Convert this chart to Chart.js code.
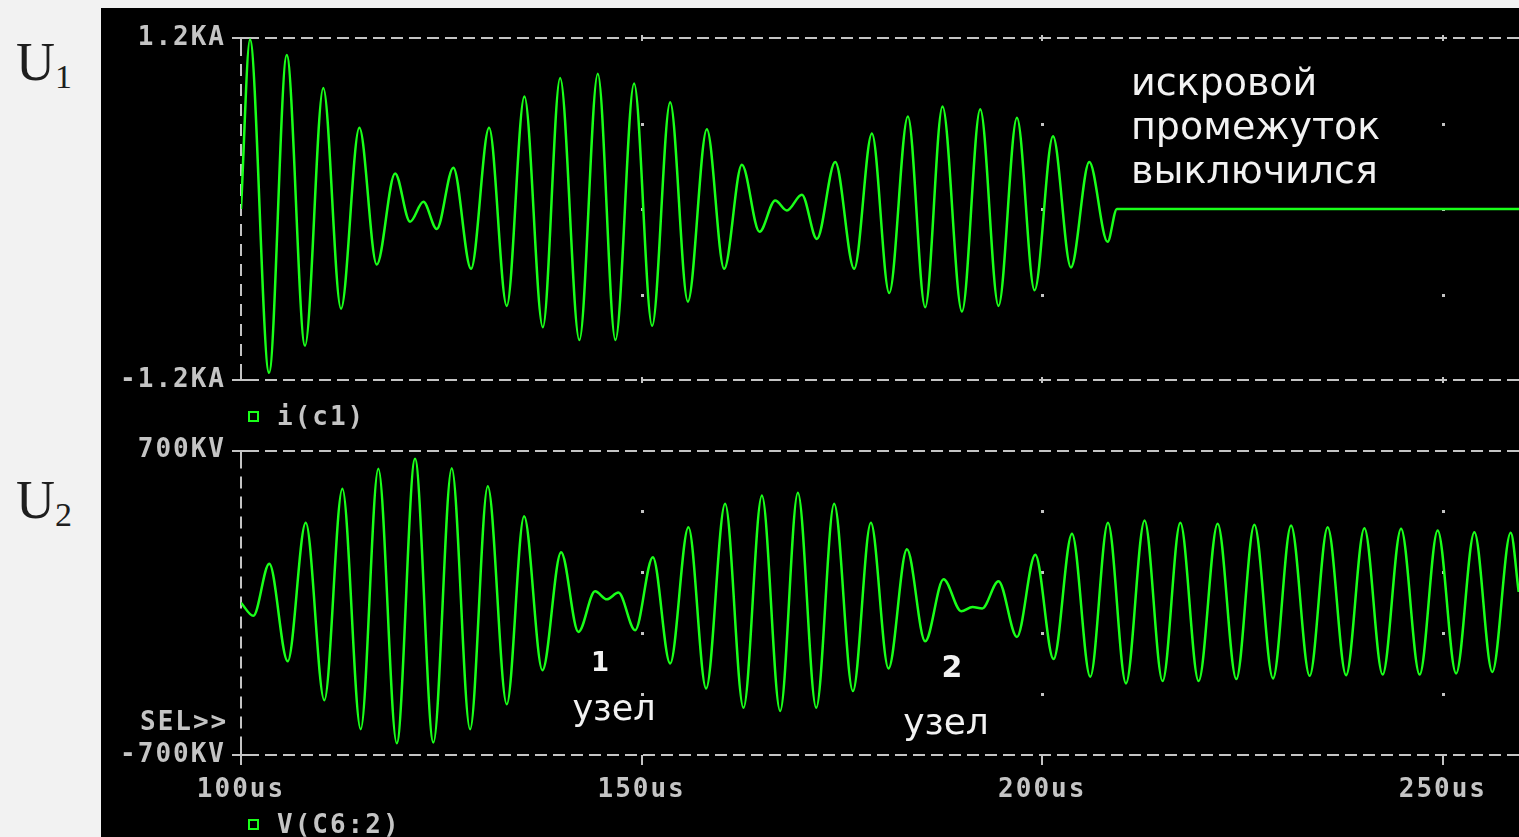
<!DOCTYPE html>
<html>
<head>
<meta charset="utf-8">
<script src="https://cdn.jsdelivr.net/npm/chart.js@4"></script>
<style>
  body { margin: 0; width: 1519px; height: 837px; background: #f2f2f2; position: relative; overflow: hidden; }
  #scope { position: absolute; left: 101px; top: 8px; right: 0; bottom: 0; background: #000; }
  .wrap { position: absolute; left: 100px; width: 1419px; }
  .lbl { position: absolute; white-space: nowrap; line-height: 1; }
  .mono { font-family: 'DejaVu Sans Mono', monospace; font-weight: bold; font-size: 26px; letter-spacing: 2px; color: #c4c4c4; }
  .note { font-family: 'DejaVu Sans', sans-serif; color: #f2f2f2; }
  .u { font-family: 'Liberation Serif', serif; color: #1e1e1e; font-size: 54px; }
  .u span { font-size: 34px; position: relative; top: 8px; }
  .box { position: absolute; width: 7px; height: 7px; border: 2px solid #19ff19; }
</style>
</head>
<body>
<div id="scope"></div>
<div class="wrap" style="top:0; height:420px"><canvas id="topChart"></canvas></div>
<div class="wrap" style="top:420px; height:417px"><canvas id="bottomChart"></canvas></div>

<div class="lbl u" style="left:16px; top:35px">U<span>1</span></div>
<div class="lbl u" style="left:16px; top:473px">U<span>2</span></div>

<div class="box" style="left:248px; top:411px"></div>
<div class="lbl mono" style="left:277px; top:403px">i(c1)</div>
<div class="box" style="left:248px; top:819px"></div>
<div class="lbl mono" style="left:277px; top:811px">V(C6:2)</div>
<div class="lbl mono" style="left:140px; top:708px">SEL&gt;&gt;</div>

<div class="lbl note" style="left:1131px; top:60px; font-size:38px; line-height:44px">искровой<br>промежуток<br>выключился</div>
<div class="lbl note" style="left:580px; width:40px; text-align:center; top:649px; font-size:26px; font-weight:bold">1</div>
<div class="lbl note" style="left:564px; width:100px; text-align:center; top:691px; font-size:35px">узел</div>
<div class="lbl note" style="left:932px; width:40px; text-align:center; top:652px; font-size:30px; font-weight:bold">2</div>
<div class="lbl note" style="left:896px; width:100px; text-align:center; top:704px; font-size:36px">узел</div>

<script>
// time axis, microseconds
const timeTicks = [100, 150, 200, 250];

// upper trace i(c1), kA (read at peaks and troughs)
const timeI = [100.0, 101.12, 103.50, 105.71, 107.99, 110.27, 112.48, 114.77, 116.94, 119.23,
  121.10, 122.76, 124.43, 126.50, 128.71, 130.96, 133.17, 135.37, 137.67, 139.83,
  142.23, 144.53, 146.73, 149.06, 151.31, 153.56, 155.77, 158.14, 160.30, 162.51,
  164.71, 166.67, 168.13, 170.00, 171.87, 174.16, 176.53, 178.74, 180.90, 183.23,
  185.39, 187.55, 189.98, 192.26, 194.54, 196.84, 199.04, 201.34, 203.58, 205.87,
  208.15, 209.32, 259.5];
const currentI = [0, 1.19, -1.15, 1.08, -0.96, 0.85, -0.70, 0.57, -0.39, 0.25,
  -0.09, 0.05, -0.14, 0.29, -0.42, 0.57, -0.68, 0.79, -0.83, 0.92,
  -0.92, 0.95, -0.92, 0.88, -0.82, 0.75, -0.65, 0.56, -0.42, 0.31,
  -0.16, 0.06, -0.01, 0.10, -0.21, 0.33, -0.42, 0.53, -0.59, 0.65,
  -0.69, 0.72, -0.72, 0.70, -0.68, 0.64, -0.57, 0.51, -0.41, 0.33,
  -0.23, 0, 0];
const topYTicks = [-1.2, 1.2];
const topGridY = [-0.6, 0, 0.6];

// lower trace V(C6:2), kV
const timeV = [100.0, 101.54, 103.53, 105.83, 108.08, 110.40, 112.65, 114.94, 117.14, 119.44,
  121.72, 124.01, 126.30, 128.59, 130.80, 133.17, 135.33, 137.62, 139.95, 142.11,
  144.19, 145.66, 147.10, 149.19, 151.40, 153.56, 155.84, 158.05, 160.42, 162.71,
  165.01, 167.29, 169.50, 171.79, 174.03, 176.37, 178.61, 180.81, 183.11, 185.39,
  187.68, 189.89, 191.3, 192.5, 194.54, 196.84, 199.13, 201.41, 203.71, 205.99,
  208.20, 210.45, 212.77, 215.02, 217.23, 219.51, 221.89, 224.22, 226.47, 228.80,
  231.05, 233.37, 235.62, 237.92, 240.20, 242.48, 244.78, 247.10, 249.35, 251.65,
  253.93, 256.17, 258.46, 259.46];
const voltageV = [0, -60, 180, -269, 368, -448, 524, -581, 616, -646,
  662, -643, 619, -582, 536, -467, 398, -310, 233, -134,
  53, 16, 47, -126, 210, -279, 348, -394, 455, -483,
  493, -498, 506, -483, 455, -406, 368, -302, 246, -177,
  108, -39, -19, -26, 99, -157, 221, -259, 318, -340,
  368, -371, 379, -360, 368, -360, 364, -351, 359, -348,
  356, -336, 348, -333, 343, -330, 341, -330, 333, -325,
  325, -318, 322, 50];
const bottomYTicks = [-700, 700];
const bottomGridY = [-420, -140, 140, 420];

const traceColor = '#19ff19';
const axisColor = '#c4c4c4';
const tickFont = { family: 'DejaVu Sans Mono', size: 26, weight: 'bold' };

// dashed frame, small tick marks and dot grid like the probe screen
const scopeFrame = {
  id: 'scopeFrame',
  beforeDraw(chart) {
    // the probe font is wider than DejaVu Sans Mono
    chart.ctx.letterSpacing = '2px';
  },
  beforeDatasetsDraw(chart, args, opts) {
    const { ctx, chartArea: a, scales: { x, y } } = chart;
    ctx.save();
    ctx.strokeStyle = axisColor;
    ctx.lineWidth = 2;
    ctx.setLineDash([12, 6]);
    [y.min, y.max].forEach(v => {
      const py = Math.round(y.getPixelForValue(v));
      ctx.beginPath();
      ctx.moveTo(a.left + 6, py);
      ctx.lineTo(a.right, py);
      ctx.stroke();
    });
    ctx.setLineDash([12, 8]);
    ctx.beginPath();
    ctx.moveTo(a.left, a.top + 6);
    ctx.lineTo(a.left, a.bottom - 4);
    ctx.stroke();
    ctx.setLineDash([]);

    // y tick marks
    [y.min, y.max].forEach(v => {
      const py = Math.round(y.getPixelForValue(v));
      ctx.beginPath();
      ctx.moveTo(a.left - 9, py);
      ctx.lineTo(a.left + 6, py);
      ctx.stroke();
    });
    ctx.beginPath();
    ctx.moveTo(a.left, a.top);
    ctx.lineTo(a.left, a.top + 8);
    ctx.moveTo(a.left, a.bottom - 8);
    ctx.lineTo(a.left, a.bottom + (opts.xTicksDown ? 10 : 0));
    ctx.stroke();

    // x tick marks
    timeTicks.slice(1).forEach(v => {
      const px = Math.round(x.getPixelForValue(v));
      ctx.beginPath();
      if (opts.xTicksDown) {
        ctx.moveTo(px, a.bottom);
        ctx.lineTo(px, a.bottom + 10);
      } else {
        ctx.moveTo(px, a.bottom - 3);
        ctx.lineTo(px, a.bottom + 3);
        ctx.moveTo(px, a.top - 3);
        ctx.lineTo(px, a.top + 3);
      }
      ctx.stroke();
    });

    // dot grid
    ctx.fillStyle = axisColor;
    timeTicks.slice(1).forEach(vx => {
      const px = Math.round(x.getPixelForValue(vx));
      opts.gridY.forEach(vy => {
        const py = Math.round(y.getPixelForValue(vy));
        ctx.fillRect(px - 1, py - 1, 3, 3);
      });
    });
    ctx.restore();
  }
};

function makeScope(canvasId, times, values, yTicks, gridY, yLabel, padTop, xHeight, showTimeLabels) {
  const ctx = document.getElementById(canvasId).getContext('2d');
  return new Chart(ctx, {
    type: 'line',
    data: {
      datasets: [{
        data: times.map((t, i) => ({ x: t, y: values[i] })),
        borderColor: traceColor,
        borderWidth: 2.5,
        pointRadius: 0,
        cubicInterpolationMode: 'monotone',
        fill: false
      }]
    },
    options: {
      responsive: true,
      maintainAspectRatio: false,
      animation: false,
      layout: { padding: { top: padTop, right: 0, bottom: 0, left: 0 } },
      plugins: {
        legend: { display: false },
        tooltip: { enabled: false },
        scopeFrame: { gridY: gridY, xTicksDown: showTimeLabels }
      },
      scales: {
        x: {
          type: 'linear',
          min: 100,
          max: 259.5,
          grid: { display: false, drawTicks: false },
          border: { display: false },
          afterBuildTicks: s => { s.ticks = timeTicks.map(v => ({ value: v })); },
          afterFit: s => { s.height = xHeight; },
          ticks: {
            display: showTimeLabels,
            color: axisColor,
            font: tickFont,
            padding: 20,
            maxRotation: 0,
            callback: v => v + 'us'
          }
        },
        y: {
          min: yTicks[0],
          max: yTicks[yTicks.length - 1],
          grid: { display: false, drawTicks: false },
          border: { display: false },
          afterBuildTicks: s => { s.ticks = yTicks.map(v => ({ value: v })); },
          afterFit: s => { s.width = 141; },
          ticks: {
            color: axisColor,
            font: tickFont,
            padding: 15,
            callback: yLabel
          }
        }
      }
    },
    plugins: [scopeFrame]
  });
}

makeScope('topChart', timeI, currentI, topYTicks, topGridY,
  v => v + 'KA', 38, 40, false);
makeScope('bottomChart', timeV, voltageV, bottomYTicks, bottomGridY,
  v => v + 'KV', 30, 82, true);
</script>
</body>
</html>
